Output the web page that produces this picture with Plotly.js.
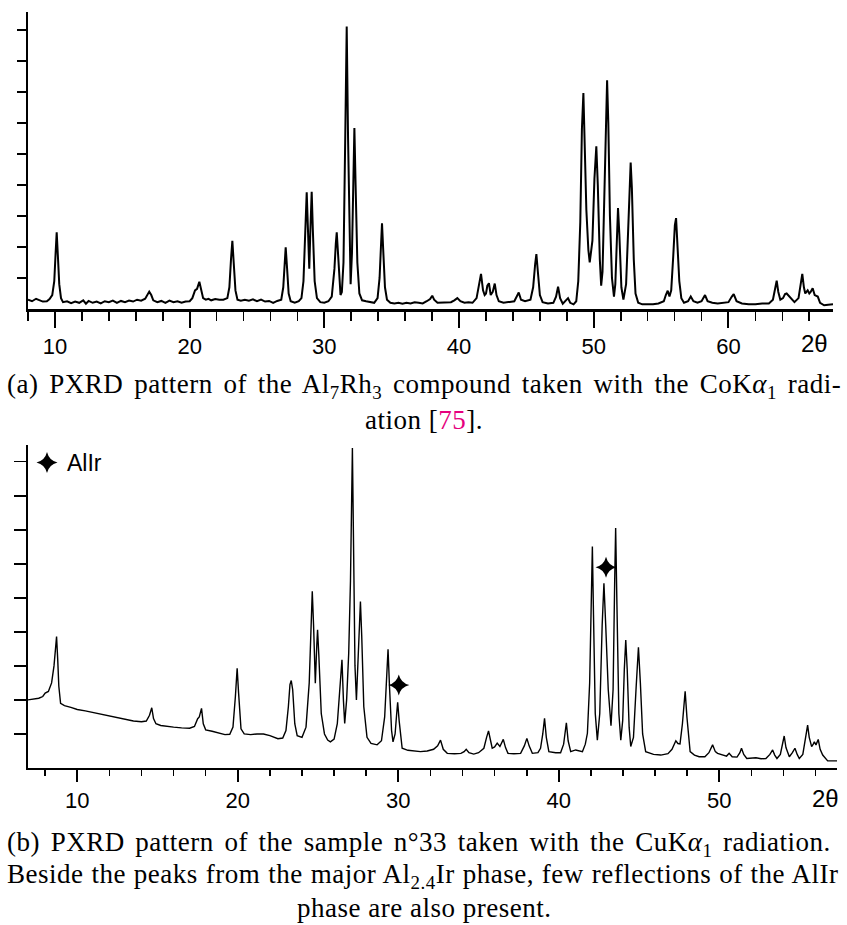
<!DOCTYPE html>
<html>
<head>
<meta charset="utf-8">
<script src="https://cdn.plot.ly/plotly-3.0.1.min.js"></script>
<style>html,body{margin:0;padding:0;background:#fff;}#chart{width:847px;height:925px;}</style>
</head>
<body>
<div id="chart"></div>
<script>
// ---- Data (2θ in degrees, intensity in tick units) ----
// (a) Al7Rh3, CoKα1 radiation
const patternA = [
[8.0,0.30],[8.3,0.25],[8.6,0.33],[8.8,0.30],[9.1,0.24],[9.4,0.25],[9.6,0.32],[9.8,0.45],
[9.95,0.9],[10.05,1.8],[10.13,2.47],[10.22,1.7],[10.32,0.8],[10.45,0.35],[10.6,0.22],[10.9,0.25],
[11.2,0.19],[11.5,0.24],[11.8,0.2],[12.1,0.28],[12.3,0.17],[12.5,0.26],[12.8,0.2],[13.1,0.24],
[13.4,0.18],[13.7,0.25],[14.0,0.22],[14.3,0.27],[14.6,0.2],[14.9,0.26],[15.2,0.22],[15.5,0.27],
[15.8,0.24],[16.1,0.3],[16.4,0.27],[16.7,0.33],[16.9,0.5],[17.0,0.56],[17.15,0.45],[17.3,0.28],
[17.6,0.22],[17.9,0.26],[18.2,0.2],[18.5,0.27],[18.8,0.22],[19.1,0.25],[19.4,0.2],[19.7,0.24],
[20.0,0.25],[20.2,0.35],[20.4,0.6],[20.55,0.65],[20.72,0.88],[20.85,0.6],[21.0,0.35],[21.2,0.3],
[21.4,0.33],[21.6,0.28],[21.9,0.32],[22.2,0.3],[22.5,0.3],[22.8,0.35],[22.95,0.7],[23.07,1.6],
[23.17,2.2],[23.27,1.5],[23.4,0.6],[23.55,0.3],[23.8,0.27],[24.1,0.3],[24.4,0.27],[24.7,0.31],
[25.0,0.25],[25.3,0.3],[25.6,0.24],[25.9,0.26],[26.2,0.2],[26.5,0.26],[26.8,0.3],[26.95,0.7],
[27.05,1.5],[27.13,1.99],[27.22,1.4],[27.35,0.5],[27.5,0.25],[27.8,0.2],[28.1,0.25],[28.3,0.35],
[28.45,0.9],[28.58,2.6],[28.69,3.76],[28.78,2.6],[28.88,1.3],[28.96,2.5],[29.06,3.78],[29.15,2.5],
[29.28,0.9],[29.45,0.35],[29.7,0.22],[30.0,0.2],[30.3,0.25],[30.55,0.4],[30.75,1.3],[30.85,2.1],
[30.92,2.47],[31.0,1.9],[31.12,0.75],[31.2,0.45],[31.3,0.55],[31.42,1.5],[31.55,5.5],[31.66,9.1],
[31.76,5.5],[31.86,2.0],[31.95,0.8],[32.05,1.8],[32.15,4.3],[32.23,5.83],[32.32,4.0],[32.45,1.5],
[32.6,0.5],[32.8,0.28],[33.1,0.25],[33.4,0.22],[33.7,0.2],[33.95,0.35],[34.1,1.0],[34.2,2.0],
[34.28,2.76],[34.37,1.9],[34.5,0.7],[34.65,0.3],[34.9,0.2],[35.2,0.18],[35.5,0.2],[35.8,0.17],
[36.1,0.2],[36.4,0.18],[36.7,0.22],[37.0,0.2],[37.3,0.18],[37.6,0.25],[37.85,0.32],[38.01,0.43],
[38.15,0.3],[38.4,0.2],[38.8,0.2],[39.1,0.22],[39.4,0.22],[39.65,0.28],[39.87,0.35],[40.1,0.25],
[40.4,0.2],[40.7,0.22],[41.0,0.2],[41.3,0.35],[41.5,0.8],[41.63,1.13],[41.78,0.6],[41.9,0.45],
[42.0,0.5],[42.1,0.75],[42.22,0.83],[42.35,0.45],[42.5,0.55],[42.65,0.82],[42.78,0.45],[42.95,0.25],
[43.3,0.2],[43.7,0.22],[44.1,0.25],[44.3,0.42],[44.43,0.53],[44.6,0.3],[44.9,0.25],[45.3,0.3],
[45.5,0.7],[45.65,1.45],[45.74,1.77],[45.85,1.2],[46.0,0.45],[46.2,0.22],[46.6,0.18],[47.0,0.2],
[47.2,0.4],[47.35,0.72],[47.5,0.35],[47.7,0.17],[47.95,0.3],[48.09,0.35],[48.25,0.2],[48.5,0.15],
[48.7,0.25],[48.85,0.9],[49.0,2.8],[49.12,5.8],[49.23,6.96],[49.33,5.5],[49.45,3.2],[49.6,1.9],
[49.7,1.5],[49.9,2.2],[50.05,4.2],[50.19,5.24],[50.3,4.0],[50.45,1.6],[50.55,0.75],[50.65,1.2],
[50.8,4.0],[50.92,6.5],[50.99,7.37],[51.08,6.0],[51.2,3.0],[51.35,1.0],[51.5,0.4],[51.6,0.8],
[51.72,2.6],[51.80,3.25],[51.9,2.4],[52.05,0.7],[52.2,0.3],[52.4,0.8],[52.55,2.5],[52.66,4.3],
[52.74,4.72],[52.83,3.9],[52.97,1.6],[53.1,0.5],[53.3,0.2],[53.6,0.15],[54.0,0.15],[54.4,0.15],
[54.8,0.18],[55.2,0.25],[55.35,0.45],[55.49,0.59],[55.62,0.4],[55.75,0.6],[55.9,1.7],[56.02,2.7],
[56.11,2.93],[56.2,2.3],[56.35,0.9],[56.5,0.35],[56.7,0.2],[57.0,0.25],[57.2,0.4],[57.4,0.25],
[57.7,0.2],[58.0,0.25],[58.26,0.45],[58.45,0.25],[58.8,0.2],[59.2,0.18],[59.6,0.2],[60.0,0.22],
[60.25,0.4],[60.39,0.48],[60.6,0.25],[61.0,0.18],[61.5,0.15],[62.0,0.15],[62.5,0.18],[63.0,0.18],
[63.3,0.3],[63.48,0.7],[63.58,0.91],[63.7,0.55],[63.85,0.3],[64.05,0.35],[64.2,0.48],[64.32,0.5],
[64.5,0.42],[64.7,0.3],[64.9,0.22],[65.2,0.35],[65.35,0.8],[65.48,1.13],[65.6,0.7],[65.7,0.5],
[65.88,0.6],[66.0,0.5],[66.1,0.55],[66.25,0.67],[66.4,0.45],[66.63,0.4],[66.8,0.2],[67.1,0.12],
[67.4,0.14],[67.76,0.15]
];

// (b) sample n°33, CuKα1 radiation
const patternB = [
[6.93,2.0],[7.3,2.02],[7.6,2.05],[7.85,2.1],[8.0,2.2],[8.2,2.25],[8.4,2.5],[8.55,3.0],
[8.65,3.6],[8.71,3.86],[8.78,3.2],[8.85,2.4],[8.96,1.9],[9.2,1.83],[9.6,1.78],[10.0,1.72],
[10.5,1.68],[11.0,1.63],[11.5,1.6],[12.0,1.53],[12.5,1.48],[13.0,1.43],[13.5,1.38],[14.0,1.36],
[14.3,1.38],[14.5,1.55],[14.64,1.77],[14.75,1.45],[14.9,1.3],[15.2,1.25],[15.6,1.22],[16.0,1.2],
[16.5,1.18],[17.0,1.17],[17.3,1.22],[17.5,1.45],[17.6,1.5],[17.74,1.75],[17.85,1.3],[18.0,1.12],
[18.4,1.08],[18.8,1.02],[19.2,0.98],[19.5,0.99],[19.7,1.2],[19.85,2.1],[19.96,2.93],[20.05,2.2],
[20.2,1.15],[20.4,1.0],[20.8,0.98],[21.2,1.0],[21.6,1.0],[22.0,0.95],[22.5,0.86],[22.8,0.88],
[23.0,1.1],[23.15,1.8],[23.25,2.45],[23.33,2.57],[23.42,2.3],[23.55,1.3],[23.7,0.95],[24.0,0.9],
[24.25,1.2],[24.45,2.5],[24.58,4.6],[24.64,5.19],[24.72,4.2],[24.83,2.49],[24.92,3.6],[24.97,4.06],
[25.05,3.3],[25.2,1.6],[25.4,1.0],[25.6,0.82],[25.77,0.77],[26.0,0.85],[26.2,1.3],[26.38,2.4],
[26.49,3.18],[26.58,2.0],[26.66,1.31],[26.78,2.0],[26.91,3.37],[27.02,5.5],[27.1,8.6],[27.14,9.4],
[27.2,7.0],[27.3,3.0],[27.39,2.0],[27.5,3.4],[27.58,4.6],[27.64,4.89],[27.72,3.9],[27.85,1.8],
[28.05,0.9],[28.3,0.72],[28.68,0.68],[28.95,0.8],[29.15,1.5],[29.28,2.9],[29.36,3.49],[29.45,2.4],
[29.58,1.1],[29.67,0.77],[29.8,1.0],[29.9,1.6],[29.96,1.93],[30.05,1.4],[30.24,0.58],[30.6,0.52],
[31.0,0.5],[31.38,0.48],[31.8,0.5],[32.2,0.55],[32.45,0.65],[32.63,0.82],[32.8,0.55],[33.05,0.43],
[33.5,0.42],[33.9,0.43],[34.1,0.48],[34.23,0.55],[34.4,0.45],[34.7,0.41],[35.0,0.45],[35.33,0.58],
[35.5,0.9],[35.62,1.09],[35.75,0.8],[35.85,0.58],[36.0,0.62],[36.16,0.73],[36.33,0.63],[36.45,0.75],
[36.54,0.84],[36.68,0.6],[36.83,0.43],[37.2,0.42],[37.62,0.43],[37.85,0.65],[38.01,0.87],[38.15,0.65],
[38.35,0.43],[38.7,0.45],[38.86,0.58],[39.0,1.0],[39.11,1.46],[39.22,0.9],[39.38,0.48],[39.8,0.45],
[40.11,0.45],[40.3,0.7],[40.47,1.33],[40.58,0.8],[40.74,0.48],[41.05,0.53],[41.3,0.5],[41.47,0.48],
[41.65,0.7],[41.78,1.02],[41.92,2.5],[42.02,5.0],[42.09,6.51],[42.16,4.5],[42.27,1.6],[42.4,0.82],
[42.55,1.6],[42.7,4.2],[42.81,5.43],[42.92,4.2],[43.08,2.3],[43.25,1.24],[43.38,2.3],[43.48,5.5],
[43.54,7.05],[43.62,4.8],[43.74,1.6],[43.86,0.82],[43.98,1.4],[44.08,2.9],[44.17,3.76],[44.26,2.9],
[44.38,1.2],[44.48,0.63],[44.65,0.9],[44.82,2.4],[44.96,3.55],[45.08,2.5],[45.22,1.0],[45.41,0.48],
[45.9,0.4],[46.35,0.38],[46.8,0.42],[47.05,0.55],[47.2,0.72],[47.29,0.8],[47.42,0.72],[47.55,0.71],
[47.7,1.3],[47.87,2.25],[47.98,1.5],[48.18,0.48],[48.45,0.38],[48.74,0.33],[49.1,0.33],[49.35,0.45],
[49.58,0.68],[49.75,0.48],[49.89,0.43],[50.2,0.38],[50.45,0.35],[50.61,0.43],[50.8,0.33],[51.1,0.32],
[51.28,0.45],[51.38,0.58],[51.52,0.4],[51.71,0.28],[52.0,0.28],[52.28,0.3],[52.6,0.27],[52.9,0.28],
[53.15,0.4],[53.32,0.53],[53.45,0.38],[53.59,0.28],[53.8,0.4],[53.95,0.75],[54.04,0.94],[54.15,0.6],
[54.36,0.33],[54.55,0.45],[54.71,0.58],[54.85,0.4],[54.98,0.28],[55.2,0.4],[55.38,0.9],[55.5,1.26],
[55.6,0.9],[55.75,0.63],[55.85,0.7],[55.92,0.77],[56.02,0.68],[56.16,0.84],[56.28,0.55],[56.44,0.38],
[56.75,0.21],[57.1,0.2],[57.33,0.21]
];

// AlIr reflections marked with a star in (b)
const alIrTheta = [30.03, 42.94];
const alIrMark  = [2.44, 5.9];

const tickValsA = [10, 20, 30, 40, 50, 60];
const tickValsB = [10, 20, 30, 40, 50];
const intensityTicks = [1, 2, 3, 4, 5, 6, 7, 8, 9];
const axisLabel = "2θ";

const captionA1 = "(a) PXRD pattern of the Al<sub>7</sub>Rh<sub>3</sub> compound taken with the CoK<i>α</i><sub>1</sub> radi-";
const captionA2 = "ation [<span style=\"color:#e6007e\">75</span>].";
const captionB1 = "(b) PXRD pattern of the sample n°33 taken with the CuK<i>α</i><sub>1</sub> radiation.";
const captionB2 = "Beside the peaks from the major Al<sub>2.4</sub>Ir phase, few reflections of the AlIr";
const captionB3 = "phase are also present.";

// ---- Figure ----
const W = 847, H = 925;
const px = v => v / W;
const py = v => 1 - v / H;

const sans = "Liberation Sans, Arial, sans-serif";
const serif = "Liberation Serif, Times New Roman, serif";
const spaced = (t, ws) => '<span style="letter-spacing:0.5px;word-spacing:' + ws + 'px">' + t + '</span>';

const traces = [
  { x: patternA.map(p => p[0]), y: patternA.map(p => p[1]), xaxis: 'x', yaxis: 'y',
    type: 'scatter', mode: 'lines', line: { color: '#000', width: 2 }, showlegend: false },
  { x: patternB.map(p => p[0]), y: patternB.map(p => p[1]), xaxis: 'x2', yaxis: 'y2',
    type: 'scatter', mode: 'lines', line: { color: '#000', width: 1.4 }, showlegend: false },
  { x: alIrTheta, y: alIrMark, xaxis: 'x2', yaxis: 'y2', type: 'scatter', mode: 'markers',
    name: 'AlIr', marker: { symbol: 'star-diamond', size: 15, color: '#000' }, showlegend: true }
];

const capFont = { family: serif, size: 27, color: '#000' };

const layout = {
  width: W, height: H,
  margin: { l: 0, r: 0, t: 0, b: 0 },
  paper_bgcolor: '#fff', plot_bgcolor: '#fff',
  font: { family: sans, color: '#000', size: 22 },
  showlegend: true,
  legend: { x: px(27), y: py(441), xanchor: 'left', yanchor: 'top', bgcolor: 'rgba(0,0,0,0)',
            font: { family: sans, size: 23, color: '#000' }, itemwidth: 30, tracegroupgap: 0 },
  xaxis: {
    domain: [px(28), px(833)], anchor: 'y', range: [8, 67.76],
    showline: true, linecolor: '#000', linewidth: 2.5, showgrid: false, zeroline: false,
    ticks: 'outside', tickvals: tickValsA, ticklen: 16, tickwidth: 2, tickcolor: '#000',
    tickfont: { family: sans, size: 22, color: '#000' },
    minor: { dtick: 2, tick0: 0, ticks: 'outside', ticklen: 9, tickwidth: 1.6, tickcolor: '#000', showgrid: false }
  },
  yaxis: {
    domain: [py(309), py(12)], anchor: 'x', range: [0, 9.57],
    showline: true, linecolor: '#000', linewidth: 2.5, showgrid: false, zeroline: false,
    ticks: 'outside', tickvals: intensityTicks, ticklen: 9, tickwidth: 2, tickcolor: '#000',
    showticklabels: false
  },
  xaxis2: {
    domain: [px(28), px(837)], anchor: 'y2', range: [6.93, 57.33],
    showline: true, linecolor: '#000', linewidth: 2, showgrid: false, zeroline: false,
    ticks: 'outside', tickvals: tickValsB, ticklen: 12, tickwidth: 2, tickcolor: '#000',
    tickfont: { family: sans, size: 22, color: '#000' },
    minor: { dtick: 2, tick0: 0, ticks: 'outside', ticklen: 6, tickwidth: 1.6, tickcolor: '#000', showgrid: false }
  },
  yaxis2: {
    domain: [py(768), py(445)], anchor: 'x2', range: [0, 9.49],
    showline: true, linecolor: '#000', linewidth: 2, showgrid: false, zeroline: false,
    ticks: 'outside', tickvals: intensityTicks, ticklen: 12, tickwidth: 1.6, tickcolor: '#000',
    showticklabels: false
  },
  annotations: [
    { text: axisLabel, xref: 'x', yref: 'paper', x: 66.4, y: py(343), xanchor: 'center', yanchor: 'middle',
      showarrow: false, font: { family: sans, size: 24, color: '#000' } },
    { text: axisLabel, xref: 'x2', yref: 'paper', x: 56.6, y: py(798), xanchor: 'center', yanchor: 'middle',
      showarrow: false, font: { family: sans, size: 24, color: '#000' } },
    { text: spaced(captionA1, 3.6), xref: 'paper', yref: 'paper', x: px(5), y: py(386), xanchor: 'left', yanchor: 'middle',
      showarrow: false, font: capFont },
    { text: spaced(captionA2, 0), xref: 'paper', yref: 'paper', x: px(424), y: py(420), xanchor: 'center', yanchor: 'middle',
      showarrow: false, font: capFont },
    { text: spaced(captionB1, 3.4), xref: 'paper', yref: 'paper', x: px(5), y: py(844), xanchor: 'left', yanchor: 'middle',
      showarrow: false, font: capFont },
    { text: spaced(captionB2, 0.7), xref: 'paper', yref: 'paper', x: px(5), y: py(876), xanchor: 'left', yanchor: 'middle',
      showarrow: false, font: capFont },
    { text: spaced(captionB3, 0), xref: 'paper', yref: 'paper', x: px(424), y: py(908), xanchor: 'center', yanchor: 'middle',
      showarrow: false, font: capFont }
  ]
};

Plotly.newPlot('chart', traces, layout, { staticPlot: true, displayModeBar: false });
</script>
</body>
</html>
